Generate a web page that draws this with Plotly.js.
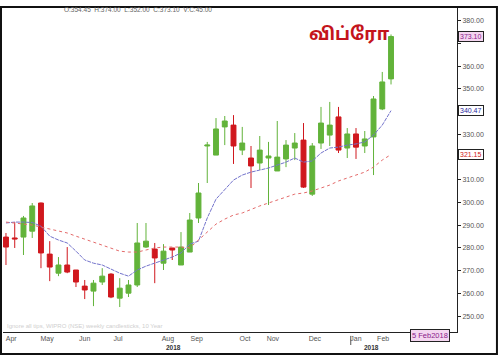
<!DOCTYPE html>
<html>
<head>
<meta charset="utf-8">
<script src="https://cdn.plot.ly/plotly-3.0.1.min.js"></script>
<style>html,body{margin:0;padding:0;background:#fff;}#chart{width:500px;height:356px;}</style>
</head>
<body>
<div id="chart"></div>
<script>
// Weekly candles (index 0 = first visible week, last = week of 5 Feb 2018)
const openVals  = [284.8,284.4,284.8,287.4,299.8,277.3,268.9,272.5,270.3,263.2,261.0,265.0,268.5,257.9,260.1,263.7,280.4,279.5,273.3,280.0,272.5,278.2,293.2,324.9,320.9,333.3,334.1,323.1,319.6,317.4,319.6,313.9,319.2,324.0,327.5,303.7,326.2,329.7,337.7,324.0,330.2,324.9,328.9,341.2,354.45];
const highVals  = [286.6,291.4,294.1,299.8,300.0,283.0,276.0,280.4,270.3,265.9,265.9,271.1,268.9,266.7,265.9,291.0,291.0,282.2,281.7,280.0,287.0,295.4,308.6,326.7,337.2,338.1,338.5,333.3,324.9,329.3,326.7,335.9,327.5,330.6,335.0,326.2,342.1,344.3,342.1,332.8,332.8,331.5,346.9,357.5,374.0];
const lowVals   = [272.5,280.0,276.9,284.4,271.1,265.4,267.6,268.9,262.8,257.5,254.4,263.7,257.9,254.0,258.4,262.8,280.0,264.5,270.3,274.7,272.5,278.2,291.0,308.6,320.9,325.3,317.0,320.9,306.4,314.3,298.9,313.9,315.6,318.7,306.4,302.9,323.6,324.9,321.8,319.6,319.2,321.8,312.1,340.7,352.0];
const closeVals = [280.4,284.0,293.2,298.5,277.8,271.6,272.5,269.4,265.0,261.5,264.5,267.6,258.4,262.3,263.7,282.2,283.0,275.6,278.6,279.1,280.4,292.3,304.2,325.3,332.4,335.9,324.9,326.2,316.1,323.1,320.5,320.0,325.3,326.2,306.8,324.9,335.0,334.1,323.1,330.2,324.4,328.0,345.6,353.1,373.1];
// Moving averages
const maShort = [291.0,291.4,291.4,291.2,289.6,285.2,283.5,282.2,278.6,274.7,273.3,272.5,270.7,268.9,267.6,270.3,272.0,273.3,274.7,276.0,277.8,281.7,283.0,293.2,301.5,305.5,309.9,312.1,313.4,314.3,315.2,316.5,317.8,319.6,317.8,318.3,321.8,324.0,324.4,325.3,325.8,326.7,329.7,334.1,340.47];
const maLong  = [291.4,291.0,290.5,290.1,289.2,288.3,287.4,286.6,285.2,283.9,282.6,281.3,280.0,278.6,278.2,278.2,279.1,280.0,280.4,280.4,280.4,280.0,283.5,287.4,290.5,292.7,294.5,295.4,297.1,298.5,299.8,301.1,302.4,303.7,304.2,305.1,306.4,307.7,309.5,310.8,312.1,313.4,315.6,318.7,321.15];
const weekIdx = openVals.map((_, i) => i);
// Axis labels
const monthPos    = [0.6, 4.7, 9.0, 12.8, 18.5, 21.8, 27.3, 30.5, 35.3, 40.0, 43.1];
const monthLabels = ["Apr","May","Jun","Jul","Aug","Sep","Oct","Nov","Dec","Jan","Feb"];
const yearPos = [19.1, 41.8];
const yearLabels = ["2018","2018"];
const priceTicks = [250,260,270,280,290,300,310,320,330,340,350,360,370,380];
const hiddenTicks = [320,340,370]; // covered by the value boxes

const GREEN = '#62b33a', RED = '#d0181e';
const lblFont = {family:'Liberation Sans, Arial, sans-serif', size:7, color:'#555'};

const traces = [
  {type:'candlestick', x:weekIdx, open:openVals, high:highVals, low:lowVals, close:closeVals,
   increasing:{line:{color:GREEN,width:1}, fillcolor:GREEN},
   decreasing:{line:{color:RED,width:1}, fillcolor:RED},
   whiskerwidth:0, hoverinfo:'skip', showlegend:false},
  {type:'scatter', mode:'lines', x:weekIdx, y:maShort, line:{color:'#7474cc',width:1,dash:'4px,1px'}, hoverinfo:'skip', showlegend:false},
  {type:'scatter', mode:'lines', x:weekIdx, y:maLong, line:{color:'#e46a6a',width:1,dash:'dot'}, hoverinfo:'skip', showlegend:false}
];

function box(y, txt, col, bg){
  return {xref:'paper', yref:'y', x:1.003, y:y, xanchor:'left', yanchor:'middle', text:txt, showarrow:false,
    font:{family:'Liberation Sans, Arial, sans-serif', size:7, color:col}, bgcolor:bg, bordercolor:'#222', borderwidth:1, borderpad:1};
}

const annotations = [
  {xref:'paper', yref:'paper', x:0.13, y:0.991, xanchor:'left', yanchor:'middle', showarrow:false,
   text:'O:354.45  H:374.00  L:352.00  C:373.10  V:C:45.00', font:{family:'Liberation Sans, Arial, sans-serif', size:6.5, color:'#666'}},
  {xref:'paper', yref:'paper', x:0.764, y:0.911, xanchor:'center', yanchor:'middle', showarrow:false,
   text:'<b>விப்ரோ</b>', font:{family:'Noto Sans Tamil, Noto Sans, sans-serif', size:18, color:'#c4141c'}},
  {xref:'paper', yref:'paper', x:0.005, y:0.019, xanchor:'left', yanchor:'middle', showarrow:false,
   text:'Ignore all tips, WIPRO (NSE) weekly candlesticks, 10 Year', font:{family:'Liberation Sans, Arial, sans-serif', size:6, color:'#cfcfcf'}},
  box(373.1, '373.10', '#8a1a8a', '#f4d6f0'),
  box(340.47, '340.47', '#2a2aa0', '#ffffff'),
  box(321.15, '321.15', '#d02020', '#ffffff'),
  {xref:'paper', yref:'paper', x:0.94, y:-0.012, xanchor:'center', yanchor:'middle', showarrow:false,
   text:'5 Feb2018', font:{family:'Liberation Sans, Arial, sans-serif', size:7.5, color:'#8a1a8a'}, bgcolor:'#f4d6f0', bordercolor:'#222', borderwidth:1, borderpad:1}
];
yearPos.forEach((p, k) => annotations.push({xref:'x', yref:'paper', x:p, y:-0.047, xanchor:'center', yanchor:'middle', showarrow:false,
  text:'<b>'+yearLabels[k]+'</b>', font:{family:'Liberation Sans, Arial, sans-serif', size:6.5, color:'#333'}}));

const layout = {
  width:500, height:356,
  margin:{l:3, r:43, t:7, b:24},
  paper_bgcolor:'#fff', plot_bgcolor:'#fff',
  boxgap:0.2,
  xaxis:{range:[-0.34, 51.54], showgrid:false, zeroline:false, showline:true, linecolor:'#222', linewidth:1,
    tickvals:monthPos, ticktext:monthLabels, ticks:'', tickfont:lblFont, rangeslider:{visible:false}, fixedrange:true},
  yaxis:{range:[243, 386.1], side:'right', showgrid:false, zeroline:false, showline:true, linecolor:'#222', linewidth:1,
    tickvals:priceTicks, ticktext:priceTicks.map(v => hiddenTicks.includes(v) ? '' : v.toFixed(2)), ticks:'outside', ticklen:3, tickcolor:'#222',
    tickfont:lblFont, fixedrange:true},
  shapes:[
    {type:'rect', xref:'paper', yref:'paper', x0:-0.0044, x1:1.088, y0:-0.0677, y1:1.0, line:{color:'#111', width:2}},
    {type:'line', xref:'x', yref:'paper', x0:39.4, x1:39.4, y0:-0.012, y1:-0.04, line:{color:'#555', width:1}}
  ],
  annotations:annotations,
  showlegend:false
};

Plotly.newPlot('chart', traces, layout, {staticPlot:true, displayModeBar:false});
</script>
</body>
</html>
